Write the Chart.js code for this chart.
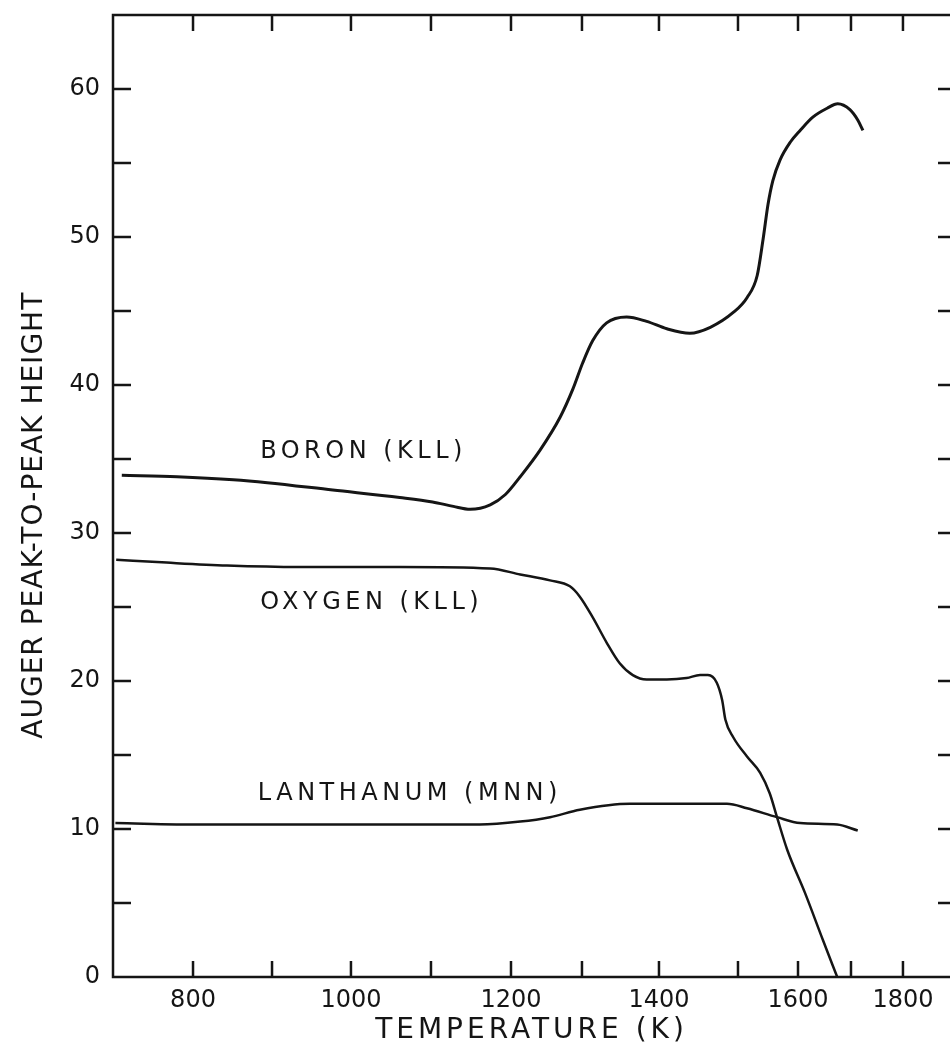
<!DOCTYPE html>
<html>
<head>
<meta charset="utf-8">
<title>Auger peak heights vs temperature</title>
<script src="https://cdn.jsdelivr.net/npm/chart.js@4.4.1/dist/chart.umd.min.js"></script>
<style>
  html, body { margin: 0; padding: 0; background: #fff; }
  #wrap { width: 950px; height: 1060px; }
</style>
</head>
<body>
<div id="wrap"><canvas id="augerChart" width="950" height="1060"></canvas></div>
<script>
// Auger peak-to-peak heights (arbitrary units) against anneal temperature (K)
const boronTemp = [711, 780, 851, 894, 977, 1061, 1102, 1128, 1149, 1174, 1193, 1213, 1241, 1269, 1287,
  1301, 1314, 1332, 1358, 1384, 1410, 1439, 1465, 1494, 1515, 1532, 1542, 1550, 1558,
  1570, 1587, 1604, 1628, 1655, 1675, 1698, 1713, 1723];
const boronHeight = [33.9, 33.8, 33.6, 33.4, 32.9, 32.4, 32.1, 31.8, 31.6, 31.9, 32.6, 33.8, 35.6, 37.8, 39.7,
  41.5, 43.0, 44.2, 44.6, 44.3, 43.8, 43.5, 43.9, 44.9, 45.9, 47.4, 49.9, 52.2, 53.8,
  55.2, 56.4, 57.2, 58.1, 58.7, 59.0, 58.6, 57.9, 57.2];

const oxygenTemp = [704, 767, 843, 935, 1061, 1174, 1213, 1255, 1283, 1297, 1314, 1332, 1349, 1366, 1384,
  1410, 1435, 1452, 1462, 1473, 1480, 1484, 1494, 1515, 1537, 1553, 1565, 1582, 1613, 1647, 1674];
const oxygenHeight = [28.2, 28.0, 27.8, 27.7, 27.7, 27.6, 27.2, 26.8, 26.4, 25.7, 24.3, 22.6, 21.2, 20.4, 20.1,
  20.1, 20.2, 20.4, 20.4, 19.9, 18.7, 17.4, 16.2, 14.9, 13.8, 12.4, 10.8, 8.6, 5.7, 2.5, 0];

const lanthanumTemp = [703, 809, 999, 1161, 1213, 1255, 1297, 1362, 1427, 1486, 1515, 1565, 1604, 1674, 1713];
const lanthanumHeight = [10.4, 10.3, 10.3, 10.3, 10.5, 10.8, 11.3, 11.7, 11.7, 11.7, 11.4, 10.8, 10.4, 10.3, 9.9];

const xTickValues = [800, 900, 1000, 1100, 1200, 1300, 1400, 1500, 1600, 1700, 1800];
const xLabelValues = [800, 1000, 1200, 1400, 1600, 1800];

// the printed temperature axis is squeezed above 1500 K:
// fraction of the axis width reached at each of these temperatures
const axisTemps = [700, 800, 900, 1000, 1100, 1200, 1300, 1400, 1500, 1600, 1700, 1800, 1890];
const axisStops = [0, 0.0956, 0.1900, 0.2843, 0.3799, 0.4755, 0.5603, 0.6523, 0.7467, 0.8184, 0.8817, 0.9438, 1];

const curveLabels = [
  { text: 'BORON (KLL)', temp: 885, height: 35.5 },
  { text: 'OXYGEN (KLL)', temp: 885, height: 25.3 },
  { text: 'LANTHANUM (MNN)', temp: 882, height: 12.4 }
];

function interp(v, from, to) {
  let i = 1;
  while (i < from.length - 1 && v > from[i]) i++;
  const f = (v - from[i - 1]) / (from[i] - from[i - 1]);
  return to[i - 1] + f * (to[i] - to[i - 1]);
}

// linear scale whose value->pixel map follows the printed tick spacing
class PrintedTempScale extends Chart.LinearScale {
  getPixelForValue(value) {
    return this.getPixelForDecimal(interp(value, axisTemps, axisStops));
  }
  getValueForPixel(pixel) {
    return interp(this.getDecimalForPixel(pixel), axisStops, axisTemps);
  }
}
PrintedTempScale.id = 'printedTemp';
PrintedTempScale.defaults = Chart.LinearScale.defaults;
Chart.register(PrintedTempScale);

function toPoints(xs, ys) {
  return xs.map((x, i) => ({ x: x, y: ys[i] }));
}

const INK = '#151515';
const FONT = '"DejaVu Sans", sans-serif';

// box with inward tick marks, curve names and axis titles
const printedFrame = {
  id: 'printedFrame',
  beforeDatasetsDraw(chart) {
    const { ctx, chartArea: a, scales: { x, y } } = chart;
    ctx.save();
    ctx.strokeStyle = INK;
    ctx.lineWidth = 2.5;
    ctx.beginPath();
    ctx.moveTo(a.right, a.top);
    ctx.lineTo(a.left, a.top);
    ctx.lineTo(a.left, a.bottom);
    ctx.lineTo(a.right, a.bottom);
    x.ticks.forEach(t => {
      const px = x.getPixelForValue(t.value);
      ctx.moveTo(px, a.bottom);
      ctx.lineTo(px, a.bottom - 16);
      ctx.moveTo(px, a.top);
      ctx.lineTo(px, a.top + 16);
    });
    y.ticks.forEach(t => {
      if (t.value <= y.min || t.value >= y.max) return;
      const py = y.getPixelForValue(t.value);
      ctx.moveTo(a.left, py);
      ctx.lineTo(a.left + 18, py);
      ctx.moveTo(a.right, py);
      ctx.lineTo(a.right - 12, py);
    });
    ctx.stroke();
    ctx.restore();
  },
  afterDraw(chart) {
    const { ctx, chartArea: a, scales: { x, y } } = chart;
    ctx.save();
    ctx.fillStyle = INK;
    ctx.textBaseline = 'middle';

    ctx.font = '24px ' + FONT;
    ctx.letterSpacing = '4.5px';
    ctx.textAlign = 'left';
    curveLabels.forEach(l => {
      ctx.fillText(l.text, x.getPixelForValue(l.temp), y.getPixelForValue(l.height));
    });

    ctx.font = '28px ' + FONT;
    ctx.letterSpacing = '4px';
    ctx.textAlign = 'center';
    ctx.fillText('TEMPERATURE (K)', (a.left + a.right) / 2, 1031);

    ctx.letterSpacing = '1px';
    ctx.translate(35, a.top + (a.bottom - a.top) * 0.52);
    ctx.rotate(-Math.PI / 2);
    ctx.fillText('AUGER PEAK-TO-PEAK HEIGHT', 0, 0);
    ctx.restore();
  }
};

const curveStyle = {
  borderColor: INK,
  pointRadius: 0,
  fill: false,
  cubicInterpolationMode: 'monotone'
};

new Chart(document.getElementById('augerChart').getContext('2d'), {
  type: 'line',
  data: {
    datasets: [
      Object.assign({ label: 'Boron (KLL)', data: toPoints(boronTemp, boronHeight), borderWidth: 3 }, curveStyle),
      Object.assign({ label: 'Oxygen (KLL)', data: toPoints(oxygenTemp, oxygenHeight), borderWidth: 2.5 }, curveStyle),
      Object.assign({ label: 'Lanthanum (MNN)', data: toPoints(lanthanumTemp, lanthanumHeight), borderWidth: 2.5 }, curveStyle)
    ]
  },
  options: {
    responsive: false,
    animation: false,
    layout: { padding: { top: 15, right: 0, bottom: 0, left: 0 } },
    plugins: {
      legend: { display: false },
      tooltip: { enabled: false }
    },
    scales: {
      x: {
        type: 'printedTemp',
        min: 700,
        max: 1890,
        bounds: 'data',
        grid: { display: false, drawTicks: false },
        border: { display: false },
        afterBuildTicks: scale => { scale.ticks = xTickValues.map(v => ({ value: v })); },
        afterFit: scale => {
          scale.height = 83;
          scale.paddingLeft = 0;
          scale.paddingRight = 0;
        },
        ticks: {
          autoSkip: false,
          maxRotation: 0,
          padding: 9,
          color: INK,
          font: { family: FONT, size: 24 },
          callback: v => xLabelValues.includes(v) ? String(v) : ''
        }
      },
      y: {
        min: 0,
        max: 65,
        grid: { display: false, drawTicks: false },
        border: { display: false },
        afterFit: scale => {
          scale.width = 113;
          scale.paddingTop = 0;
          scale.paddingBottom = 0;
        },
        ticks: {
          stepSize: 5,
          autoSkip: false,
          padding: 13,
          color: INK,
          font: { family: FONT, size: 24 },
          callback: v => v % 10 === 0 ? String(v) : ''
        }
      }
    }
  },
  plugins: [printedFrame]
});
</script>
</body>
</html>
